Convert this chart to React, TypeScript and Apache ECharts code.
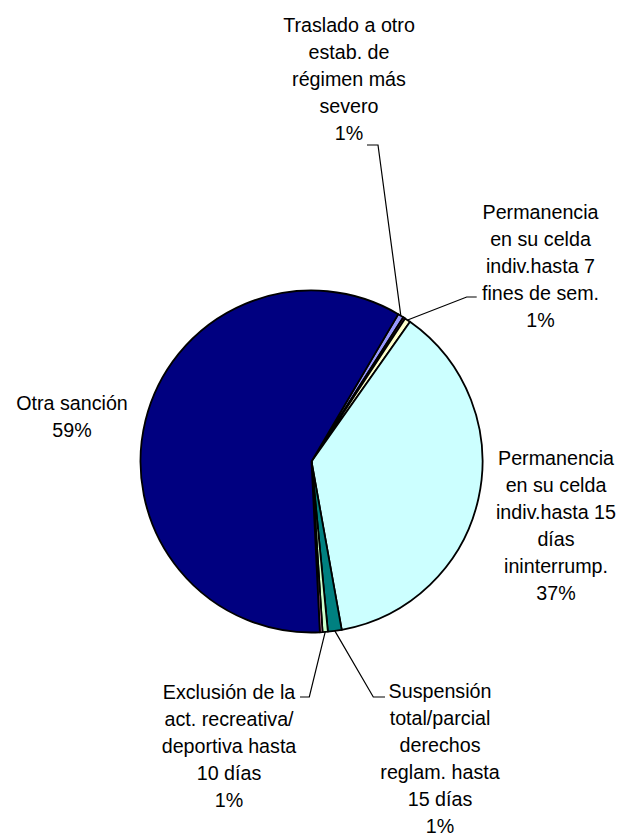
import React, { useEffect, useRef } from "react";
import * as echarts from "echarts";

// Category names (line breaks as in the original labels)
const categories: string[] = [
  "Traslado a otro\nestab. de\nrégimen más\nsevero",
  "(sin rótulo 1)",
  "Permanencia\nen su celda\nindiv.hasta 7\nfines de sem.",
  "Permanencia\nen su celda\nindiv.hasta 15\ndías\nininterrump.",
  "Suspensión\ntotal/parcial\nderechos\nreglam. hasta\n15 días",
  "Exclusión de la\nact. recreativa/\ndeportiva hasta\n10 días",
  "(sin rótulo 2)",
  "Otra sanción",
];

// Share of each sanction (%)
const values: number[] = [0.55, 0.2, 0.55, 37.4, 1.3, 0.5, 0.25, 59.25];

const colors: string[] = [
  "#9999FF",
  "#993366",
  "#FFFFCC",
  "#CCFFFF",
  "#008080",
  "#CCFFCC",
  "#FF99CC",
  "#000080",
];

const showLabel: boolean[] = [true, false, true, true, true, true, false, true];
const showLine: boolean[] = [true, false, true, false, true, true, false, false];

// Label placement (layout only)
type LL = { x: number; y: number; bend?: number[]; end?: number[] };
const labelLayouts: Record<number, LL> = {
  0: { x: 349, y: 11, bend: [378, 145], end: [367, 145] },
  2: { x: 540.5, y: 198, bend: [466.7, 297], end: [476.7, 297] },
  3: { x: 556, y: 444.5 },
  4: { x: 440, y: 677, bend: [373.3, 697], end: [385, 697] },
  5: { x: 229, y: 678, bend: [309.3, 697], end: [300, 697] },
  7: { x: 72, y: 389 },
};

const FONT = "'Liberation Sans', Arial, sans-serif";

export default function App() {
  const ref = useRef<HTMLDivElement>(null);
  useEffect(() => {
    if (!ref.current) return;
    const chart = echarts.init(ref.current, undefined, { renderer: "svg" });
    const total = values.reduce((a, b) => a + b, 0);
    const data = categories.map((name, i) => ({
      name,
      value: values[i],
      itemStyle: { color: colors[i] },
      label: { show: showLabel[i] },
      labelLine: { show: showLine[i] },
    }));
    chart.setOption({
      animation: false,
      backgroundColor: "#ffffff",
      series: [
        {
          type: "pie",
          center: [311.5, 461.5],
          radius: 171,
          startAngle: 59.5,
          clockwise: true,
          avoidLabelOverlap: false,
          silent: true,
          emphasis: { disabled: true },
          itemStyle: { borderColor: "#000000", borderWidth: 1.8 },
          label: {
            show: true,
            position: "outside",
            color: "#000000",
            fontFamily: FONT,
            fontSize: 19.7,
            lineHeight: 27,
            align: "center",
            formatter: (p: any) =>
              `${p.name}\n${Math.round((p.value / total) * 100)}%`,
          },
          labelLine: {
            show: true,
            length: 10,
            length2: 10,
            smooth: false,
            lineStyle: { color: "#000000", width: 1.2 },
          },
          labelLayout: (params: any) => {
            const l = labelLayouts[params.dataIndex];
            if (!l) return {};
            const out: any = {
              x: l.x,
              y: l.y,
              align: "center",
              verticalAlign: "top",
              hideOverlap: false,
              moveOverlap: null,
            };
            if (l.bend && l.end && params.labelLinePoints) {
              out.labelLinePoints = [
                params.labelLinePoints[0],
                l.bend,
                l.end,
              ];
            }
            return out;
          },
          data,
        },
      ],
    });
    return () => chart.dispose();
  }, []);
  return (
    <div
      ref={ref}
      style={{ position: "fixed", left: 0, top: 0, width: 623, height: 840 }}
    />
  );
}
